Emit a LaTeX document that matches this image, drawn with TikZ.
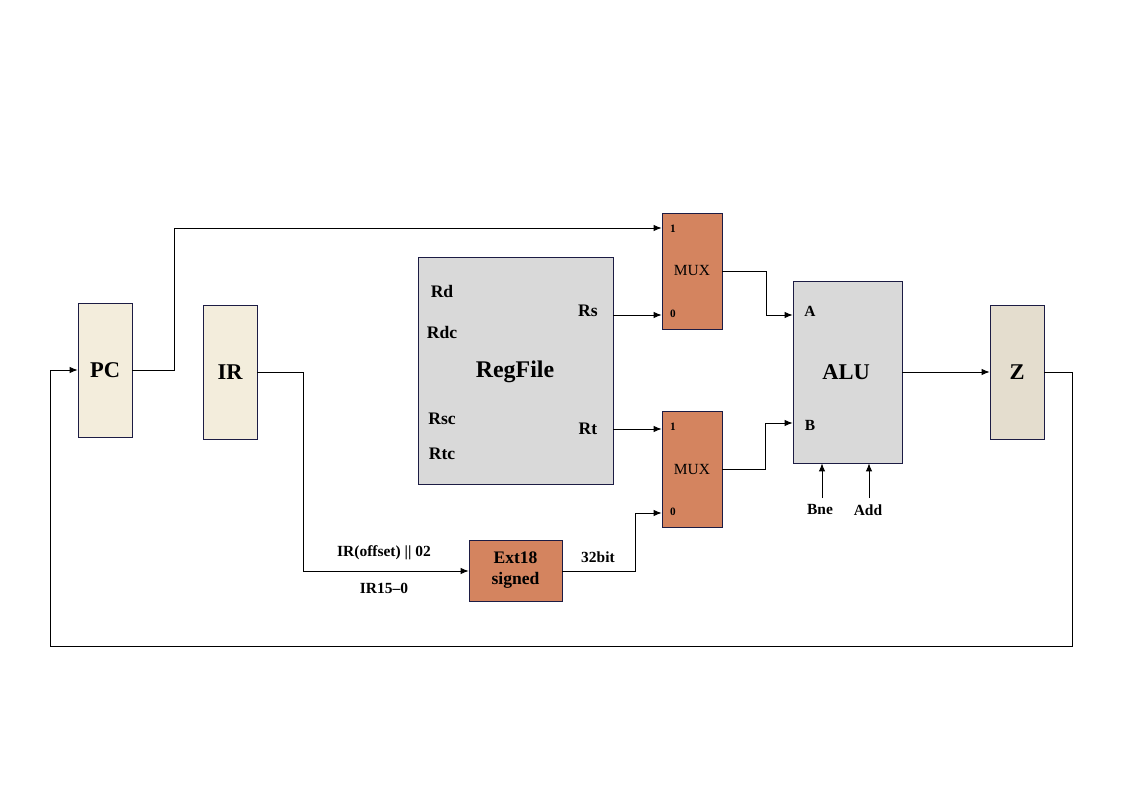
\documentclass[tikz,border=0pt]{standalone}
\usepackage{fontspec}
\setmainfont{Liberation Serif}
\usepackage{tikz}
\usetikzlibrary{arrows.meta,positioning}
\definecolor{Cream}{HTML}{F3EDDC}
\definecolor{Sand}{HTML}{E4DDCE}
\definecolor{Clay}{HTML}{D4845F}
\definecolor{Steel}{HTML}{D9D9D9}
\definecolor{Edge}{HTML}{1C1C44}

\begin{document}
\begin{tikzpicture}[x=0.025cm,y=-0.025cm,>={Latex[length=2mm,width=1.6mm]},
    reg/.style={draw=Edge,fill=Cream,inner sep=0pt,minimum width=1.35cm,minimum height=3.35cm,
      font=\fontsize{16}{18}\selectfont\bfseries},
    unit/.style={draw=Edge,fill=Steel,inner sep=0pt},
    mux/.style={draw=Edge,fill=Clay,inner sep=0pt,minimum width=1.5cm,minimum height=2.9cm,
      font=\fontsize{11}{13}\selectfont},
    port/.style={inner sep=0pt,font=\fontsize{12.5}{14}\selectfont\bfseries},
    tiny/.style={inner sep=0pt,font=\fontsize{8}{9}\selectfont\bfseries},
    tag/.style={inner sep=1pt,font=\fontsize{11}{13}\selectfont\bfseries},
    wire/.style={->,line width=0.7pt}]
  \useasboundingbox (0,0) rectangle (1123,794);
  % registers
  \node[reg] (pc) at (105,370.5) {PC};
  \node[reg] (ir) at (230,372) {IR};
  \node[reg,fill=Sand] (z) at (1017,372) {Z};
  % register file
  \node[unit,minimum width=4.875cm,minimum height=5.675cm] (rf) at (515.5,370.5) {};
  \node[font=\fontsize{17}{19}\selectfont\bfseries] (rfname) at (515,372) {RegFile};
  \node[port] (rd) at (442,291) {Rd};
  \node[port] (rdc) at (442,332) {Rdc};
  \node[port] (rsc) at (442,419) {Rsc};
  \node[port] (rtc) at (442,454) {Rtc};
  \node[port] (rs) at (588,311) {Rs};
  \node[port] (rt) at (588,429) {Rt};
  \coordinate (rsout) at (613,315);
  \coordinate (rtout) at (613,429);
  % multiplexers
  \node[mux] (muxa) at (692,271) {MUX};
  \node[mux] (muxb) at (692,469.5) {MUX};
  \node[tiny] (muxaone) at (673,229) {1};
  \node[tiny] (muxazero) at (673,314) {0};
  \node[tiny] (muxbone) at (673,427) {1};
  \node[tiny] (muxbzero) at (673,512) {0};
  % alu
  \node[unit,minimum width=2.725cm,minimum height=4.55cm] (alu) at (847.5,372) {};
  \node[font=\fontsize{16}{18}\selectfont\bfseries] (aluname) at (846,372) {ALU};
  \node[tag] (ina) at (810,311) {A};
  \node[tag] (inb) at (810,425) {B};
  \node[tag] (bne) at (820,510) {Bne};
  \node[tag] (add) at (868,510) {Add};
  \coordinate (bnein) at (822,498);
  \coordinate (addin) at (869,498);
  % sign extension
  \node[draw=Edge,fill=Clay,inner sep=0pt,minimum width=2.325cm,minimum height=1.525cm,align=center,
    font=\fontsize{12.5}{15}\selectfont\bfseries] (ext) at (515.5,570.5) {Ext18\\signed};
  \node[tag] (offs) at (384,553) {IR(offset) || 02};
  \node[tag] (bits) at (384,588) {IR15--0};
  \node[tag] (wide) at (598,557) {32bit};
  % wires
  \draw[wire] (pc.east |- 0,370) -| (174,228) -- (muxa.west |- 0,228);
  \draw[wire] (rsout) -- (muxa.west |- rsout);
  \draw[wire] (rtout) -- (muxb.west |- rtout);
  \draw[wire] (muxa.east) -| (766,315) -- (alu.west |- 0,315);
  \draw[wire] (muxb.east) -| (765,423) -- (alu.west |- 0,423);
  \draw[wire] (alu.east) -- (z.west);
  \draw[wire] (ir.east) -| (303,571) -- (ext.west |- 0,571);
  \draw[wire] (ext.east |- 0,571) -| (635,513) -- (muxb.west |- 0,513);
  \draw[wire] (z.east) -| (1072,646) -| (50,370) -- (pc.west |- 0,370);
  \draw[wire] (bnein) -- (alu.south -| bnein);
  \draw[wire] (addin) -- (alu.south -| addin);
\end{tikzpicture}
\end{document}
